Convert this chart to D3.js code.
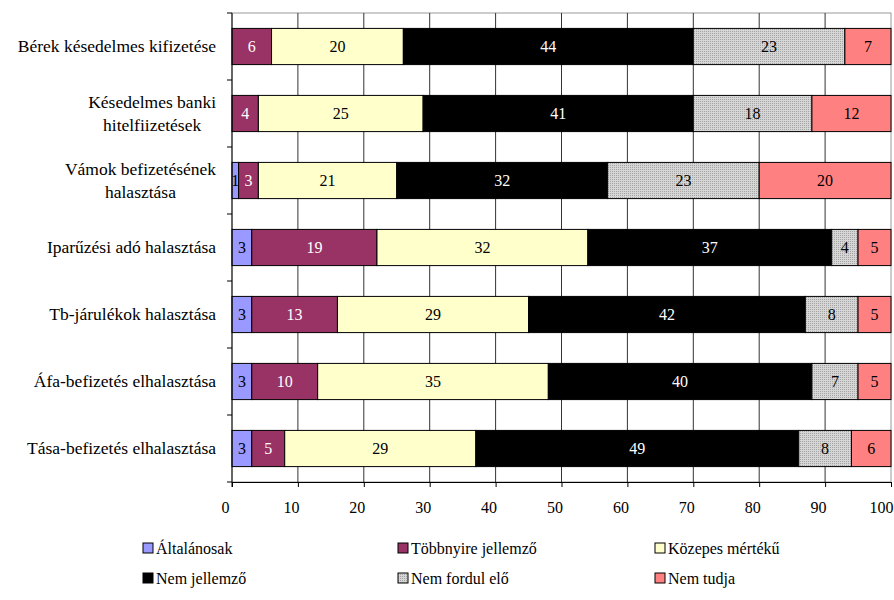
<!DOCTYPE html>
<html>
<head>
<meta charset="utf-8">
<script src="https://cdn.jsdelivr.net/npm/d3@7"></script>
<style>
  body { margin: 0; background: #fff; }
  svg text { font-family: "Times New Roman", "Liberation Serif", "DejaVu Serif", serif; }
</style>
</head>
<body>
<div id="chart"></div>
<script>
const categories = [
    "Bérek késedelmes kifizetése",
    "Késedelmes banki\nhitelfiizetések",
    "Vámok befizetésének\nhalasztása",
    "Iparűzési adó halasztása",
    "Tb-járulékok halasztása",
    "Áfa-befizetés elhalasztása",
    "Tása-befizetés elhalasztása"
];
const seriesNames = ["Általánosak", "Többnyire jellemző", "Közepes mértékű", "Nem jellemző", "Nem fordul elő", "Nem tudja"];
const altalanosak = [0, 0, 1, 3, 3, 3, 3];
const tobbnyire = [6, 4, 3, 19, 13, 10, 5];
const kozepes = [20, 25, 21, 32, 29, 35, 29];
const nemJellemzo = [44, 41, 32, 37, 42, 40, 49];
const nemFordul = [23, 18, 23, 4, 8, 7, 8];
const nemTudja = [7, 12, 20, 5, 5, 5, 6];
const xTicks = [0, 10, 20, 30, 40, 50, 60, 70, 80, 90, 100];

const seriesValues = [altalanosak, tobbnyire, kozepes, nemJellemzo, nemFordul, nemTudja];
const fills = ["#9999FF", "#993366", "#FFFFCC", "#000000", "url(#dots)", "#FF8080"];
const labelColors = ["#000", "#fff", "#000", "#fff", "#000", "#000"];
const serif = '"Times New Roman", "Liberation Serif", "DejaVu Serif", serif';

const width = 894, height = 600;
const margin = { top: 13, right: 3, bottom: 118, left: 232 };
const innerW = width - margin.left - margin.right;
const innerH = height - margin.top - margin.bottom;

const rows = categories.map((c, i) => {
    const r = { cat: c };
    seriesNames.forEach((s, j) => r[s] = seriesValues[j][i]);
    return r;
});
const stacked = d3.stack().keys(seriesNames)(rows);

const svg = d3.select("#chart").append("svg")
    .attr("width", width)
    .attr("height", height)
    .attr("font-family", serif);

const pat = svg.append("defs").append("pattern")
    .attr("id", "dots")
    .attr("width", 2).attr("height", 2)
    .attr("patternUnits", "userSpaceOnUse");
pat.append("rect").attr("width", 2).attr("height", 2).attr("fill", "#d6d6d6");
pat.append("rect").attr("width", 1).attr("height", 1).attr("fill", "#a4a4a4");

const g = svg.append("g").attr("transform", `translate(${margin.left},${margin.top})`);

const x = d3.scaleLinear().domain([0, 100]).range([0, innerW]);
const y = d3.scaleBand().domain(categories).range([0, innerH])
    .paddingInner(0.46).paddingOuter(0.23);

// frame + gridlines
g.append("rect")
    .attr("width", innerW).attr("height", innerH)
    .attr("fill", "#fff").attr("stroke", "#999");

g.selectAll(".grid")
    .data(xTicks.slice(1, -1))
    .enter().append("line")
    .attr("x1", d => x(d)).attr("x2", d => x(d))
    .attr("y1", 0).attr("y2", innerH)
    .attr("stroke", "#333");

// bars
const layer = g.selectAll(".layer")
    .data(stacked)
    .enter().append("g")
    .attr("fill", (d, i) => fills[i]);

layer.selectAll("rect")
    .data(d => d.filter(p => p[1] - p[0] > 0))
    .enter().append("rect")
    .attr("x", d => x(d[0]))
    .attr("y", d => y(d.data.cat))
    .attr("width", d => x(d[1]) - x(d[0]))
    .attr("height", y.bandwidth())
    .attr("stroke", "#000")
    .attr("stroke-width", 1);

stacked.forEach((s, i) => {
    g.selectAll(".lbl" + i)
        .data(s.filter(p => p[1] - p[0] > 0))
        .enter().append("text")
        .attr("x", d => x((d[0] + d[1]) / 2))
        .attr("y", d => y(d.data.cat) + y.bandwidth() / 2 + 5)
        .attr("text-anchor", "middle")
        .attr("fill", labelColors[i])
        .style("font-size", "16px")
        .text(d => d[1] - d[0]);
});

// x axis
const xAxis = g.append("g")
    .attr("transform", `translate(0,${innerH})`)
    .call(d3.axisBottom(x).tickValues(xTicks).tickSize(5).tickSizeOuter(0));
xAxis.attr("font-family", serif);
xAxis.select(".domain").attr("stroke", "#000");
xAxis.selectAll("text")
    .attr("dx", -7).attr("dy", 0).attr("y", 31)
    .style("font-size", "16px")
    .attr("fill", "#000");
// last label would fall off the right edge: pin it to its end
xAxis.selectAll(".tick").filter(d => d === 100).select("text")
    .attr("text-anchor", "end")
    .attr("dx", 2);

// y axis line + boundary ticks
g.append("line").attr("x1", 0).attr("x2", 0).attr("y1", 0).attr("y2", innerH + 5).attr("stroke", "#000");
g.selectAll(".ytick")
    .data(d3.range(categories.length + 1))
    .enter().append("line")
    .attr("x1", -5).attr("x2", 0)
    .attr("y1", d => d * y.step()).attr("y2", d => d * y.step())
    .attr("stroke", "#000");

// category labels
const labelRight = -16;
categories.forEach(c => {
    const lines = c.split("\n");
    const t = g.append("text")
        .style("font-size", "17.5px")
        .attr("fill", "#000")
        .attr("text-anchor", "middle");
    const spans = lines.map(l => t.append("tspan").text(l));
    const maxW = d3.max(spans, s => s.node().getComputedTextLength());
    const cx = labelRight - maxW / 2;
    const mid = y(c) + y.bandwidth() / 2;
    const first = mid + 5.5 - (lines.length - 1) * 11.5;
    spans.forEach((s, k) => s.attr("x", cx).attr("y", first + k * 23));
});

// legend
const legendX = [143, 398, 655];
const legendY = [548, 578];
const legend = svg.selectAll(".legend")
    .data(seriesNames)
    .enter().append("g")
    .attr("transform", (d, i) => `translate(${legendX[i % 3]},${legendY[Math.floor(i / 3)]})`);
legend.append("rect")
    .attr("x", 0).attr("y", -5)
    .attr("width", 10).attr("height", 10)
    .attr("fill", (d, i) => fills[i])
    .attr("stroke", "#000");
legend.append("text")
    .attr("x", 13).attr("y", 5.5)
    .style("font-size", "16px")
    .text(d => d);
</script>
</body>
</html>
